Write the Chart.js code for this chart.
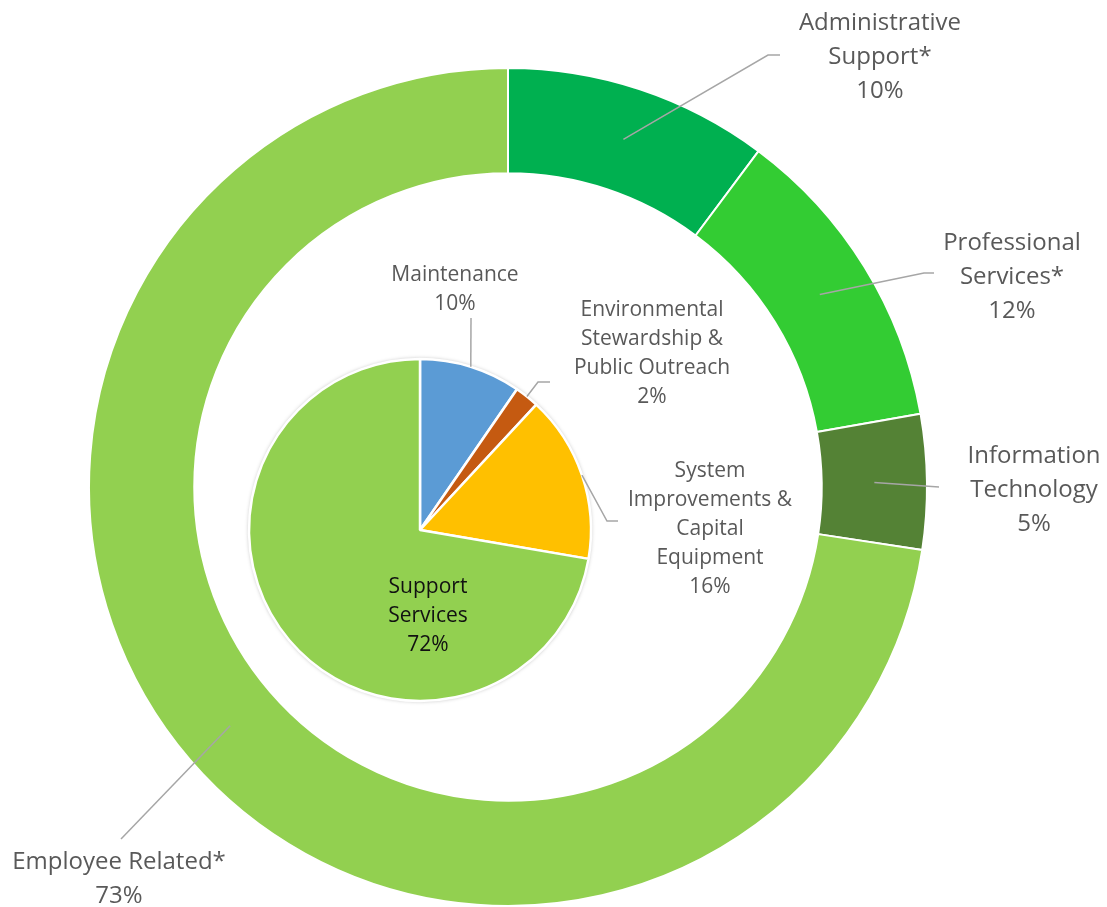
<!DOCTYPE html>
<html>
<head>
<meta charset="utf-8">
<script src="https://cdn.jsdelivr.net/npm/chart.js@4.4.1/dist/chart.umd.min.js"></script>
<style>
  html, body { margin: 0; padding: 0; background: #fff; }
  #wrap { position: relative; width: 1107px; height: 907px; }
  #wrap canvas { position: absolute; left: 0; top: 0; }
</style>
</head>
<body>
<div id="wrap">
  <canvas id="ringChart" width="1107" height="907"></canvas>
  <canvas id="pieChart" width="1107" height="907"></canvas>
</div>
<script>
// Outer ring - expense categories
const ringLabels = ['Administrative Support*', 'Professional Services*', 'Information Technology', 'Employee Related*'];
const ringValues = [10.2, 12.0, 5.2, 72.6];
const ringColors = ['#00B050', '#33CC33', '#548235', '#92D050'];

// Inner pie - program areas
const pieLabels = ['Maintenance', 'Environmental Stewardship & Public Outreach', 'System Improvements & Capital Equipment', 'Support Services'];
const pieValues = [9.6, 2.3, 15.8, 72.3];
const pieColors = ['#5B9BD5', '#C55A11', '#FFC000', '#92D050'];

// draws data labels + leader lines (Excel style callouts)
const calloutPlugin = {
    id: 'callouts',
    afterDatasetsDraw(chart, args, opts) {
        const ctx = chart.ctx;
        const meta = chart.getDatasetMeta(0);
        const values = chart.data.datasets[0].data;
        const total = values.reduce((a, b) => a + b, 0);
        ctx.save();
        meta.data.forEach((arc, i) => {
            const spot = opts.spots[i];
            if (!spot) return;
            if (spot.knee) {
                let start;
                if (opts.anchor === 'edge') {
                    const p = arc.getProps(['x', 'y', 'startAngle', 'endAngle', 'outerRadius'], true);
                    const mid = (p.startAngle + p.endAngle) / 2;
                    start = { x: p.x + Math.cos(mid) * p.outerRadius, y: p.y + Math.sin(mid) * p.outerRadius };
                } else {
                    start = arc.tooltipPosition(true);
                }
                ctx.beginPath();
                ctx.moveTo(start.x, start.y);
                spot.knee.forEach(k => ctx.lineTo(k[0], k[1]));
                ctx.strokeStyle = '#A6A6A6';
                ctx.lineWidth = 1.5;
                ctx.stroke();
            }
            const lines = spot.lines.concat(Math.round(values[i] / total * 100) + '%');
            ctx.font = opts.font;
            ctx.fillStyle = spot.color || '#595959';
            ctx.textAlign = 'center';
            ctx.textBaseline = 'middle';
            lines.forEach((t, j) => ctx.fillText(t, spot.x, spot.y + j * opts.lineHeight));
        });
        ctx.restore();
    }
};

// soft shadow under the inner pie
const pieShadow = {
    id: 'pieShadow',
    beforeDatasetsDraw(chart) {
        const arc = chart.getDatasetMeta(0).data[0];
        const p = arc.getProps(['x', 'y', 'outerRadius'], true);
        const ctx = chart.ctx;
        ctx.save();
        ctx.shadowColor = 'rgba(0,0,0,0.35)';
        ctx.shadowBlur = 4;
        ctx.beginPath();
        ctx.arc(p.x, p.y, p.outerRadius, 0, Math.PI * 2);
        ctx.fillStyle = '#fff';
        ctx.fill();
        ctx.restore();
    }
};

new Chart(document.getElementById('ringChart'), {
    type: 'doughnut',
    data: {
        labels: ringLabels,
        datasets: [{
            data: ringValues,
            backgroundColor: ringColors,
            borderColor: '#fff',
            borderWidth: 2,
            hoverOffset: 0
        }]
    },
    options: {
        responsive: false,
        animation: false,
        events: [],
        radius: 419,
        cutout: 313,
        layout: { padding: { left: 89, right: 180, top: 68, bottom: 1 } },
        plugins: {
            legend: { display: false },
            tooltip: { enabled: false },
            callouts: {
                anchor: 'centroid',
                font: '24px "Open Sans", sans-serif',
                lineHeight: 34,
                spots: [
                    { x: 880, y: 23, lines: ['Administrative', 'Support*'], knee: [[768, 55], [780, 55]] },
                    { x: 1012, y: 243, lines: ['Professional', 'Services*'], knee: [[924, 273], [934, 273]] },
                    { x: 1034, y: 456, lines: ['Information', 'Technology'], knee: [[939, 487]] },
                    { x: 119, y: 862, lines: ['Employee Related*'], knee: [[121, 839]] }
                ]
            }
        }
    },
    plugins: [calloutPlugin]
});

new Chart(document.getElementById('pieChart'), {
    type: 'pie',
    data: {
        labels: pieLabels,
        datasets: [{
            data: pieValues,
            backgroundColor: pieColors,
            borderColor: '#fff',
            borderWidth: 2.5,
            hoverOffset: 0
        }]
    },
    options: {
        responsive: false,
        animation: false,
        events: [],
        radius: 171,
        layout: { padding: { left: 250, right: 517, top: 360, bottom: 207 } },
        plugins: {
            legend: { display: false },
            tooltip: { enabled: false },
            callouts: {
                anchor: 'edge',
                font: '21px "Open Sans", sans-serif',
                lineHeight: 29,
                spots: [
                    { x: 455, y: 275, lines: ['Maintenance'], knee: [[471, 318]] },
                    { x: 652, y: 310, lines: ['Environmental', 'Stewardship &', 'Public Outreach'], knee: [[538, 382], [550, 382]] },
                    { x: 710, y: 471, lines: ['System', 'Improvements &', 'Capital', 'Equipment'], knee: [[607, 521], [618, 521]] },
                    { x: 428, y: 587, lines: ['Support', 'Services'], color: '#111' }
                ]
            }
        }
    },
    plugins: [pieShadow, calloutPlugin]
});
</script>
</body>
</html>
